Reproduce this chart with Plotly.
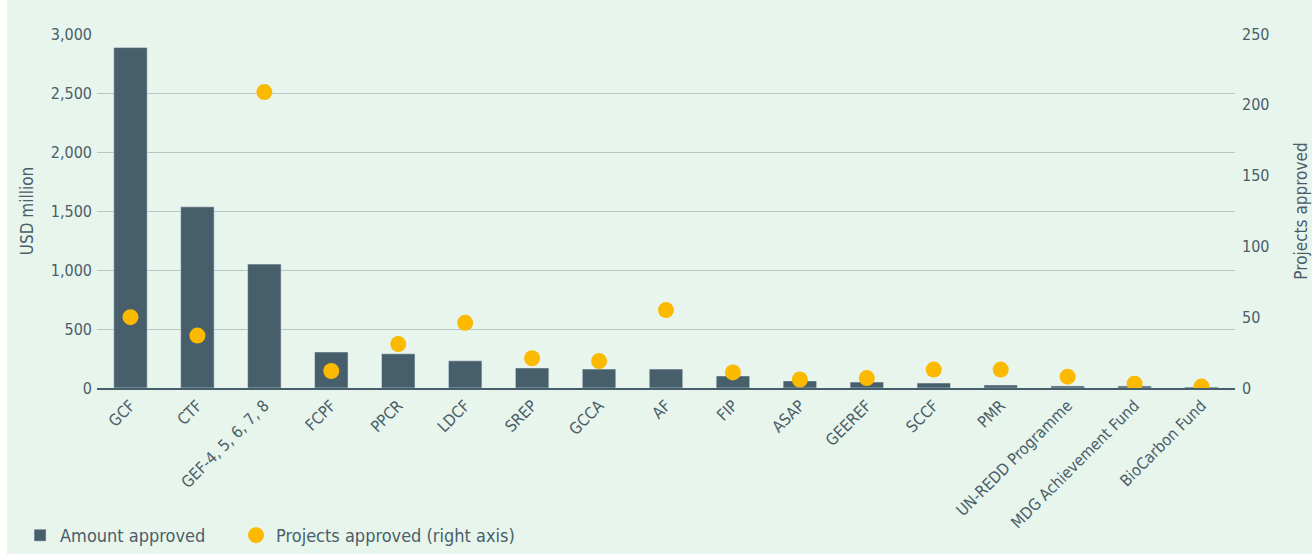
import plotly.graph_objects as go

funds = ["GCF", "CTF", "GEF-4, 5, 6, 7, 8", "FCPF", "PPCR", "LDCF", "SREP", "GCCA", "AF",
         "FIP", "ASAP", "GEEREF", "SCCF", "PMR", "UN-REDD Programme",
         "MDG Achievement Fund", "BioCarbon Fund"]
amount_approved = [2885, 1535, 1050, 305, 290, 230, 170, 160, 160, 102, 60, 50, 42, 25, 18, 17, 8]
projects_approved = [50, 37, 209, 12, 31, 46, 21, 19, 55, 11, 6, 7, 13, 13, 8, 3, 1]
series_names = ["Amount approved", "Projects approved (right axis)"]

text_col = "#4a5e69"
bar_col = "#475f6b"
dot_col = "#fbb900"
bg = "#e8f5ec"
font_fam = "DejaVu Sans Condensed, Liberation Sans Narrow, Roboto, sans-serif"

fig = go.Figure()
fig.add_trace(go.Bar(x=funds, y=amount_approved, name=series_names[0] + "\u00a0" * 5,
                     marker_color=bar_col, width=0.5, yaxis="y"))
fig.add_trace(go.Scatter(x=funds, y=projects_approved, name=series_names[1],
                         mode="markers", marker=dict(color=dot_col, size=16), yaxis="y2"))

fig.update_layout(
    width=1305, height=554,
    paper_bgcolor=bg, plot_bgcolor=bg,
    margin=dict(l=90, r=77, t=34, b=166),
    font=dict(family=font_fam, color=text_col, size=15),
    xaxis=dict(tickangle=-45, showgrid=False, showline=True, linecolor=bar_col, linewidth=2,
               ticks="", tickfont=dict(size=16), range=[-0.5, 16.5], automargin=False),
    yaxis=dict(range=[0, 3000], dtick=500, tickformat=",", showgrid=True, gridcolor="#b8c6c7",
               gridwidth=1, zeroline=False, ticks="", tickfont=dict(size=16), automargin=False,
               ticklabelstandoff=4,
               title=dict(text="USD million", font=dict(size=17), standoff=12)),
    yaxis2=dict(range=[0, 250], dtick=50, overlaying="y", side="right", showgrid=False,
                zeroline=False, ticks="", tickfont=dict(size=16), automargin=False,
                ticklabelstandoff=6,
                title=dict(text="Projects approved", font=dict(size=17), standoff=26)),
    legend=dict(orientation="h", xref="container", yref="container", x=0.01, y=0.0,
                xanchor="left", yanchor="bottom", font=dict(size=18), itemwidth=30,
                bgcolor="rgba(0,0,0,0)"),
    showlegend=True,
)
fig.write_html("out.html",
               post_script="document.body.style.margin='0 0 0 7px';document.body.style.overflow='hidden';")
